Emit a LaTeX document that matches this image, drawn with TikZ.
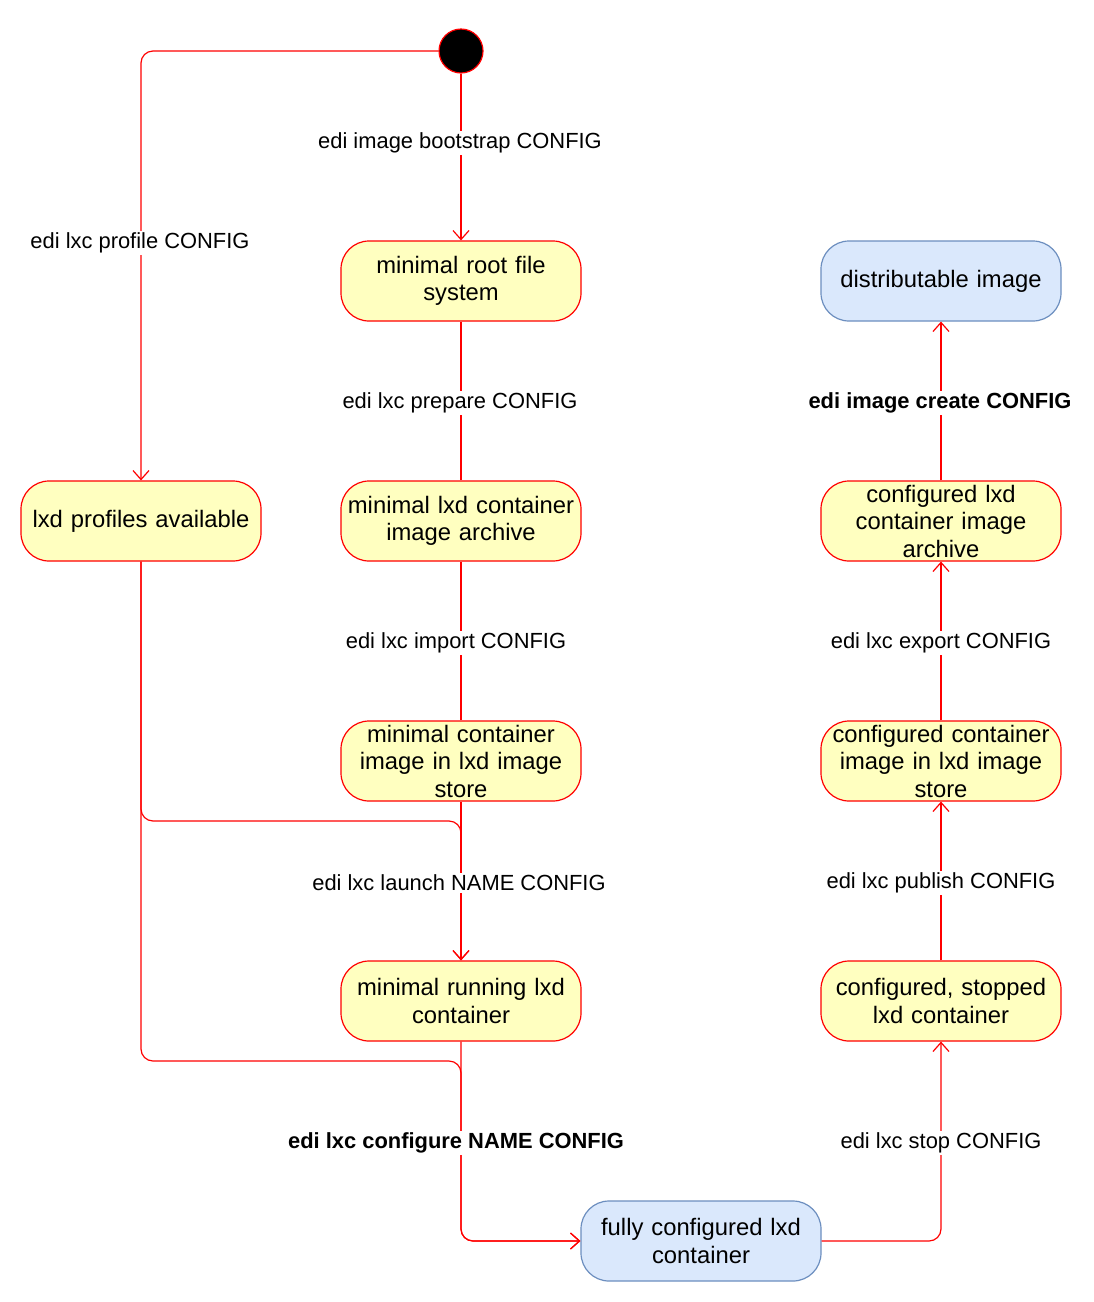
\documentclass[tikz,border=0pt]{standalone}
\usepackage{fontspec}
\setmainfont{Liberation Sans}
\usetikzlibrary{arrows.meta}
\definecolor{yf}{HTML}{FFFFC0}
\definecolor{bf}{HTML}{DAE8FC}
\definecolor{bs}{HTML}{6C8EBF}
\begin{document}
\begin{tikzpicture}[x=1pt,y=-1pt,
 st/.style={draw=red,fill=yf,line width=1.2pt,rounded corners=28pt,minimum width=240pt,minimum height=80pt,text width=236pt,align=center,font=\fontsize{23.8}{27.5}\selectfont,inner sep=0pt},
 bl/.style={st,draw=bs,fill=bf},
 e/.style={draw=red,line width=1.2pt,rounded corners=12pt},
 a/.style={e,-{Straight Barb[length=9pt,width=16pt,line width=1.2pt]}},
 lb/.style={fill=white,font=\fontsize{21.9}{24}\selectfont,inner sep=2pt},
 lbb/.style={lb,font=\fontsize{21.9}{24}\selectfont\bfseries}]
\useasboundingbox (0,0) rectangle (1094,1302);
\node[circle,draw=red,fill=black,line width=1.2pt,minimum size=44pt,inner sep=0pt] (s) at (461,51) {};
\node[st] (root) at (461,281) {minimal root file\\system};
\node[st] (prof) at (141,521) {lxd profiles available};
\node[st] (arch) at (461,521) {minimal lxd container\\image archive};
\node[st] (store) at (461,761) {minimal container\\image in lxd image\\store};
\node[st] (run) at (461,1001) {minimal running lxd\\container};
\node[bl] (full) at (701,1241) {fully configured lxd\\container};
\node[st] (stop) at (941,1001) {configured, stopped\\lxd container};
\node[st] (cstore) at (941,761) {configured container\\image in lxd image\\store};
\node[st] (carch) at (941,521) {configured lxd\\container image\\archive};
\node[bl] (dist) at (941,281) {distributable image};
\coordinate (c1) at (141,51);
\coordinate (c2) at (141,821);
\coordinate (c3) at (461,821);
\coordinate (c4) at (141,1061);
\coordinate (c5) at (461,1061);
\coordinate (c6) at (461,1241);
\coordinate (c7) at (941,1241);
\draw[a] (s) -- (root);
\draw[a] (s.west) -- (c1) -- (prof.north);
\draw[e] (root) -- (arch);
\draw[e] (arch) -- (store);
\draw[a] (store) -- (run);
\draw[a] (prof.south) -- (c2) -- (c3) -- (run.north);
\draw[a] (run.south) -- (c6) -- (full.west);
\draw[a] (prof.south) -- (c4) -- (c5) -- (c6) -- (full.west);
\draw[a] (full.east) -- (c7) -- (stop.south);
\draw[a] (stop) -- (cstore);
\draw[a] (cstore) -- (carch);
\draw[a] (carch) -- (dist);
\node[lb] (l1) at (460,143) {edi image bootstrap CONFIG};
\node[lb] (l2) at (140,243) {edi lxc profile CONFIG};
\node[lb] (l3) at (460,403) {edi lxc prepare CONFIG};
\node[lb] (l4) at (456,643) {edi lxc import CONFIG};
\node[lb] (l5) at (459,883) {edi lxc launch NAME CONFIG};
\node[lbb] (l6) at (456,1143) {edi lxc configure NAME CONFIG};
\node[lb] (l7) at (941,1143) {edi lxc stop CONFIG};
\node[lb] (l8) at (941,883) {edi lxc publish CONFIG};
\node[lb] (l9) at (941,643) {edi lxc export CONFIG};
\node[lbb] (l10) at (940,403) {edi image create CONFIG};
\end{tikzpicture}
\end{document}
